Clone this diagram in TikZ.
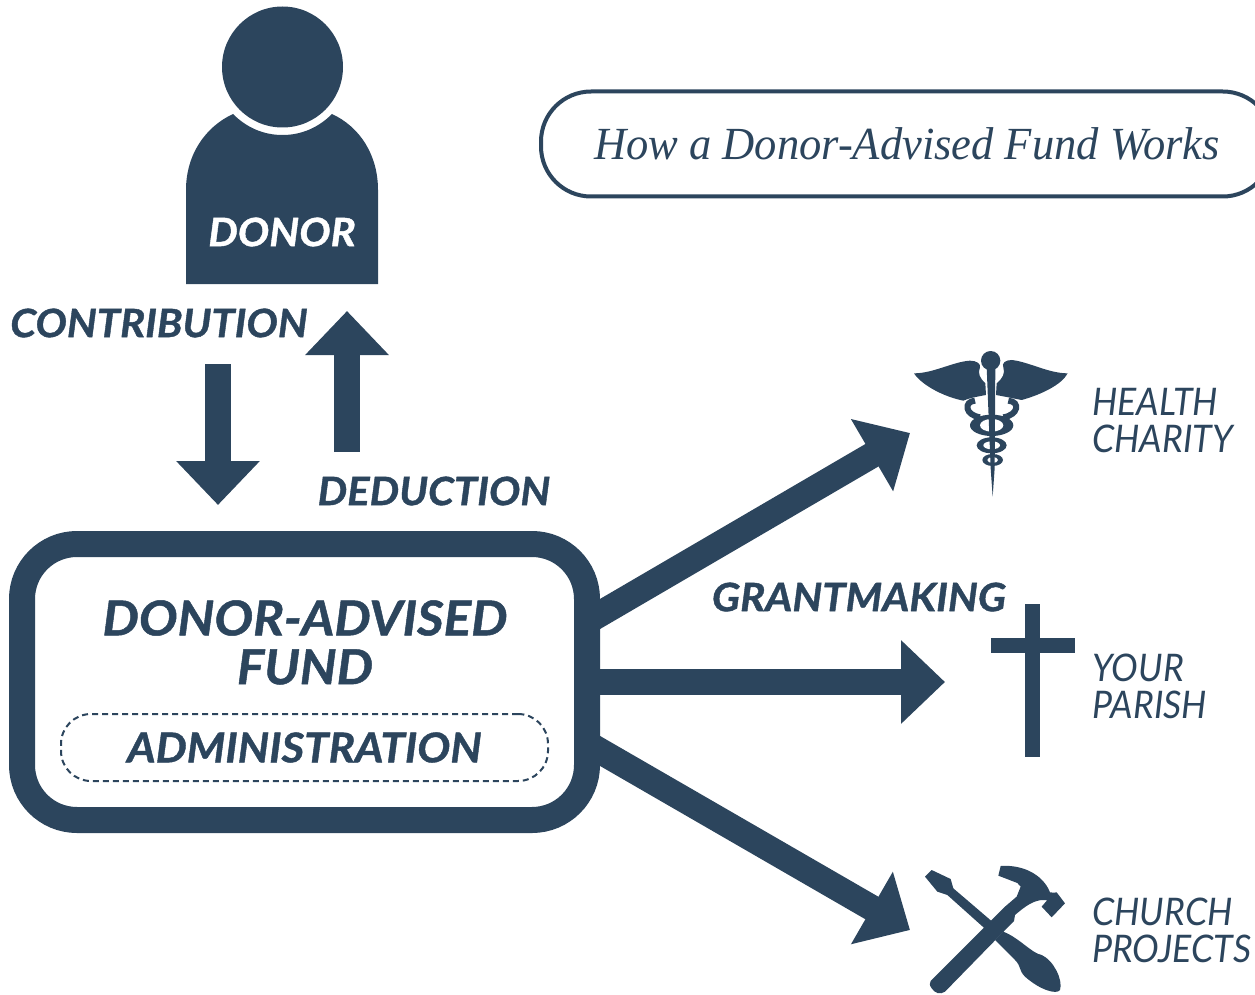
\documentclass[tikz,border=0pt]{standalone}
\usepackage{fontspec}
\setmainfont{Lato}
\newfontfamily\titlefont[FakeStretch=0.968]{Liberation Serif}
\newfontfamily\heavyfont[FakeBold=1.0,FakeStretch=1.07]{Lato Bold Italic}
\newfontfamily\placefont[FakeStretch=0.94]{Lato}
\usetikzlibrary{arrows.meta,calc}
\definecolor{navy}{HTML}{2C455D}
\tikzset{
    bold label/.style={font=\fontsize{#1}{#1}\selectfont\heavyfont,text=navy,inner sep=0pt},
    place label/.style={font=\fontsize{38}{37}\selectfont\placefont\itshape,text=navy,inner sep=0pt,align=left,anchor=west},
    big arrow/.style={line width=26pt,draw=navy,-{Triangle[length=44pt,width=81pt]}},
    icon/.style={fill=navy,draw=none}
}
\begin{document}
\begin{tikzpicture}[x=1pt,y=-1pt]
    \useasboundingbox (0,0) rectangle (1255,995);

    % donor
    \fill[icon] (282.5,67) circle (60.5pt);
    \fill[icon] (186,284) -- (186,190) .. controls (186,155) and (205,127) .. (233,114)
        .. controls (247,128) and (264,135) .. (282.5,135)
        .. controls (301,135) and (318,128) .. (332,114)
        .. controls (360,127) and (378,155) .. (378,190) -- (378,284) -- cycle;
    \node[bold label=39,text=white] (donor) at (282,232) {DONOR};

    % title
    \node[draw=navy,line width=4pt,rounded corners=50pt,fill=white,font=\fontsize{46}{46}\selectfont\titlefont\itshape,
        text=navy,anchor=west,inner xsep=53pt,minimum height=105pt] (title) at (539,144) {How a Donor-Advised Fund Works};

    % fund
    \node[draw=navy,line width=26pt,rounded corners=55pt,fill=white,minimum width=565pt,minimum height=276pt] (fund) at (304.5,682) {};
    \node[bold label=48] (fundname) at (305,618) {DONOR-ADVISED};
    \node[bold label=48] (fundname2) at (305,667) {FUND};
    \node[draw=navy,line width=2pt,dash pattern=on 6pt off 4pt,rounded corners=30pt,minimum width=487pt,minimum height=67pt] (admin) at (304.5,747.5) {};
    \node[bold label=41] at (admin) {ADMINISTRATION};

    % coordinates for arrows
    \coordinate (contribend) at (218,505);
    \coordinate (contribstart) at (218,364);
    \coordinate (deductstart) at (347,452);
    \coordinate (deductend) at (347,311);
    \coordinate (healthend) at (910,433);
    \coordinate (parishend) at (945,682);
    \coordinate (churchend) at (910,930);

    \draw[big arrow] (contribstart) -- (contribend);
    \draw[big arrow] (deductstart) -- (deductend);
    \draw[big arrow] ($(fund.east)+(-12,-61)$) -- (healthend);
    \draw[big arrow] (fund.east) -- (parishend);
    \draw[big arrow] ($(fund.east)+(-12,62)$) -- (churchend);

    \node[bold label=39] (contribution) at (159,323) {CONTRIBUTION};
    \node[bold label=39] (deduction) at (434,491) {DEDUCTION};
    \node[bold label=39] (grantmaking) at (859,597) {GRANTMAKING};

    % health charity
    \begin{scope}[shift={(900,340)},x=0.3333pt,y=-0.3333pt]
        \fill[icon] (42,100) .. controls (100,100) and (160,65) .. (210,62) .. controls (230,62) and (243,72) .. (240,82)
            .. controls (232,100) and (240,115) .. (256,130) -- (258,165) .. controls (230,170) and (205,175) .. (190,182)
            .. controls (130,170) and (65,135) .. (42,100) -- cycle;
        \fill[icon] (503,100) .. controls (445,100) and (385,65) .. (335,60) .. controls (315,60) and (305,70) .. (310,82)
            .. controls (316,100) and (308,115) .. (290,130) -- (288,165) .. controls (315,170) and (340,175) .. (365,180)
            .. controls (420,165) and (485,135) .. (503,100) -- cycle;
        \draw[navy,line width=6pt] (225,182) .. controls (190,185) and (195,225) .. (240,232);
        \draw[navy,line width=6pt] (325,182) .. controls (362,185) and (355,225) .. (310,232);
        \fill[icon] (275,256) ellipse (65 and 32);
        \fill[white] (275,256) ellipse (35 and 19);
        \fill[icon] (275,316) ellipse (45 and 24);
        \fill[white] (275,316) ellipse (25 and 12);
        \fill[icon] (278,360) ellipse (31 and 18);
        \fill[white] (278,360) ellipse (16 and 9);
        \fill[icon] (272,62) circle (29);
        \fill[icon] (260,80) -- (286,80) -- (284,385) -- (278,470) -- (272,385) -- cycle;
    \end{scope}
    \node[place label] (health) at (1092,421) {HEALTH\\CHARITY};

    % your parish
    \fill[icon] (1025,604) rectangle (1040,757);
    \fill[icon] (991,638) rectangle (1075,653);
    \node[place label] (parish) at (1092,686) {YOUR\\PARISH};

    % church projects
    \begin{scope}[shift={(910,855)},x=0.3333pt,y=-0.3333pt]
        \fill[icon] (45,65) -- (65,45) -- (122,72) -- (130,100) -- (255,207) -- (235,230) -- (112,120) -- (82,110) -- cycle;
        \fill[icon] (280,230) .. controls (330,250) and (365,295) .. (395,300) .. controls (430,315) and (460,375) .. (450,405)
            .. controls (440,420) and (390,405) .. (345,365) .. controls (325,345) and (335,335) .. (315,315) -- (255,255) -- cycle;
        \fill[icon] (62,378) -- (285,155) -- (320,125) -- (332,95) -- (322,84) -- (265,62) -- (272,33)
            .. controls (340,28) and (400,60) .. (420,112) -- (432,113) -- (440,112) -- (465,145) -- (425,187) -- (395,155) -- (412,135)
            -- (395,135) .. controls (370,138) and (350,150) .. (315,180) -- (312,198) -- (105,410)
            .. controls (90,420) and (75,415) .. (65,400) .. controls (58,390) and (58,385) .. (62,378) -- cycle;
    \end{scope}
    \node[place label] (church) at (1092,930) {CHURCH\\PROJECTS};
\end{tikzpicture}
\end{document}
